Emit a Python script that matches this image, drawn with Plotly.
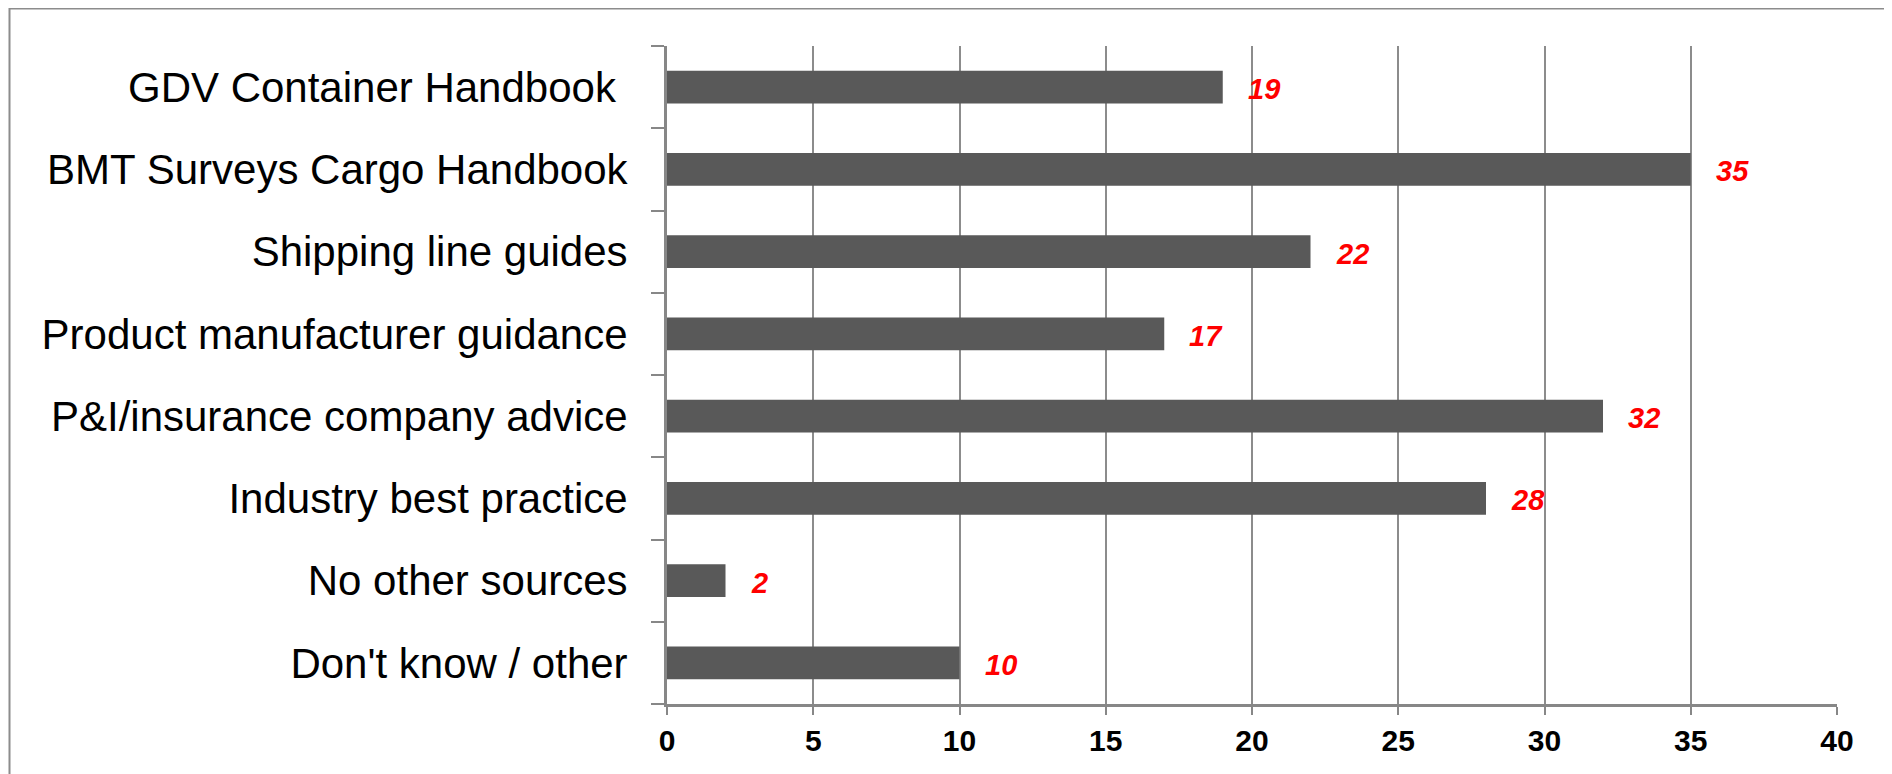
import plotly.graph_objects as go

categories = [
    "GDV Container Handbook ",
    "BMT Surveys Cargo Handbook",
    "Shipping line guides",
    "Product manufacturer guidance",
    "P&I/insurance company advice",
    "Industry best practice",
    "No other sources",
    "Don't know / other",
]
values = [19, 35, 22, 17, 32, 28, 2, 10]
x_ticks = [0, 5, 10, 15, 20, 25, 30, 35, 40]

W, H = 1892, 774
ML, MR, MT, MB = 659, 63, 38, 78
FONT = "Liberation Sans, Arial, sans-serif"
GRID = "#8c8c8c"

fig = go.Figure()
fig.add_trace(go.Bar(
    x=values, y=categories, orientation="h",
    marker=dict(color="#595959", line=dict(width=0)),
    hoverinfo="x+y",
))

annotations = []
for c, v in zip(categories, values):
    annotations.append(dict(
        x=v, y=c, xref="x", yref="y", text=f"<b><i>{v}</i></b>",
        showarrow=False, xanchor="left", yanchor="middle",
        xshift=23, yshift=-2,
        font=dict(family=FONT, size=29, color="#ff0000"),
    ))

pw = W - ML - MR
ph = H - MT - MB
def px_to_paper_x(px):
    return (px - ML) / pw
def px_to_paper_y(py):
    return 1 - (py - MT) / ph

shapes = [
    # outer frame: top and left edges
    dict(type="line", xref="paper", yref="paper",
         x0=px_to_paper_x(1), x1=px_to_paper_x(W + 5),
         y0=px_to_paper_y(0.5), y1=px_to_paper_y(0.5),
         line=dict(color="#8c8c8c", width=2), layer="above"),
    dict(type="line", xref="paper", yref="paper",
         x0=px_to_paper_x(1.5), x1=px_to_paper_x(1.5),
         y0=px_to_paper_y(0), y1=px_to_paper_y(H + 5),
         line=dict(color="#8c8c8c", width=2), layer="above"),
]

fig.update_layout(
    width=W, height=H,
    margin=dict(l=ML, r=MR, t=MT, b=MB, autoexpand=False),
    paper_bgcolor="white", plot_bgcolor="white",
    showlegend=False,
    bargap=0.6,
    annotations=annotations,
    shapes=shapes,
    xaxis=dict(
        range=[0, 40], tickvals=x_ticks, ticktext=[str(t) for t in x_ticks],
        showgrid=True, gridcolor=GRID, gridwidth=2,
        zeroline=False,
        showline=True, linecolor="#878787", linewidth=3,
        ticks="outside", ticklen=8, tickwidth=2, tickcolor="#878787",
        tickfont=dict(family=FONT, size=30, color="black", weight="bold"),
        fixedrange=True,
    ),
    yaxis=dict(
        type="category",
        categoryorder="array", categoryarray=categories[::-1],
        showgrid=False, zeroline=False,
        showline=True, linecolor="#878787", linewidth=3,
        ticks="outside", ticklen=13, tickwidth=2, tickcolor="#878787",
        tickson="boundaries",
        ticklabelstandoff=28,
        tickfont=dict(family=FONT, size=42, color="black"),
        fixedrange=True,
    ),
)

fig.write_html("out.html")
